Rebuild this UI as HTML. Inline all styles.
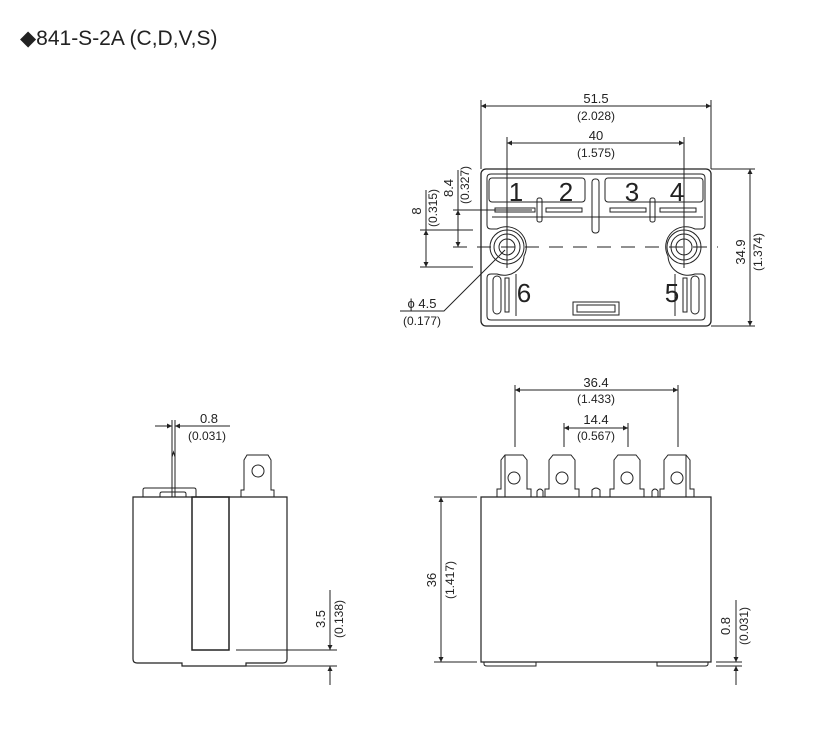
<!DOCTYPE html>
<html><head><meta charset="utf-8"><style>
html,body{margin:0;padding:0;background:#fff;}
svg{display:block}
text{font-family:"Liberation Sans",Arial,sans-serif;fill:#222}
</style></head><body>
<svg width="818" height="733" viewBox="0 0 818 733" xmlns="http://www.w3.org/2000/svg">
<defs>
<marker id="a" viewBox="0 0 10 10" refX="10" refY="5" markerWidth="9" markerHeight="5" orient="auto-start-reverse" markerUnits="userSpaceOnUse"><path d="M0,0L10,5L0,10z" fill="#222"/></marker>
</defs>
<text x="20" y="45" font-size="21">◆841-S-2A (C,D,V,S)</text>

<g stroke="#222" fill="none" stroke-width="1">
<rect x="481" y="169" width="230" height="157" rx="5" stroke-width="1.3"/>
<path d="M487,178 Q487,174 491,174 H701 Q705,174 705,178 V225 Q705,229 701,229 H695 A20,20 0 0 0 668,256 A20,20 0 0 0 695,274 H701 Q705,274 705,278 V316 Q705,320 701,320 H491 Q487,320 487,316 V278 Q487,274 491,274 H497 A20,20 0 0 0 524,256 A20,20 0 0 0 497,229 H491 Q487,229 487,225Z"/>
<rect x="489" y="178" width="96" height="24" rx="3"/>
<rect x="605" y="178" width="98" height="24" rx="3"/>
<rect x="592" y="179" width="7" height="54" rx="3"/>
<rect x="537" y="198" width="5" height="24" rx="2"/>
<rect x="650" y="198" width="5" height="24" rx="2"/>
<rect x="495" y="208" width="40" height="4"/>
<rect x="546" y="208" width="36" height="4"/>
<rect x="610" y="208" width="36" height="4"/>
<rect x="660" y="208" width="36" height="4"/>
<path d="M492,217 H703"/>
<circle cx="507" cy="247" r="8"/><circle cx="507" cy="247" r="13"/><circle cx="507" cy="247" r="17"/>
<circle cx="684" cy="247" r="8"/><circle cx="684" cy="247" r="13"/><circle cx="684" cy="247" r="17"/>
<path d="M516,274 V316 M675,274 V316"/>
<rect x="493" y="276" width="8" height="38" rx="4"/>
<rect x="505" y="278" width="4" height="34"/>
<rect x="691" y="276" width="8" height="38" rx="4"/>
<rect x="683" y="278" width="4" height="34"/>
<rect x="573" y="302" width="46" height="13"/>
<rect x="577" y="305" width="38" height="7"/>
<path d="M453,247 H718" stroke-dasharray="14,10"/>
<path d="M481,100 V169 M711,100 V169"/>
<path d="M481,106 H711" marker-start="url(#a)" marker-end="url(#a)"/>
<path d="M507,137 V268 M684,137 V268"/>
<path d="M507,143 H684" marker-start="url(#a)" marker-end="url(#a)"/>
<path d="M711,169 H755 M711,326 H755"/>
<path d="M750,169 V326" marker-start="url(#a)" marker-end="url(#a)"/>
<path d="M420,230 H473 M420,267 H473"/>
<path d="M426,230 V267" marker-start="url(#a)" marker-end="url(#a)"/>
<path d="M453,210 H532"/>
<path d="M458,210 V247" marker-start="url(#a)" marker-end="url(#a)"/>
<path d="M458,170 V210 M426,190 V230"/>
<path d="M400,311 H444 L505,250"/>

<path d="M133,497 H287 V659 Q287,663 283,663 H246 V666 H182 V663 H137 Q133,663 133,659Z" stroke-width="1.2"/>
<rect x="192" y="497" width="37" height="153" stroke-width="1.5"/>
<path d="M143,497 V490 Q143,488 145,488 H194 Q196,488 196,490 V497"/>
<path d="M160,497 V494 Q160,492 162,492 H184 Q186,492 186,494 V497"/>
<path d="M172,420 V497 M175,420 V497 M172,457 L173.5,452 L175,457"/>
<path d="M241,497 V490 L244,490 V460 L247,455 H268 L271,460 V490 L274,490 V497"/>
<circle cx="258" cy="471" r="6"/>
<path d="M155,426 H172" marker-end="url(#a)"/>
<path d="M192,426 H175" marker-end="url(#a)"/>
<path d="M175,426 H230"/>
<path d="M236,650 H337 M246,666 H337"/>
<path d="M330,590 V650" marker-end="url(#a)"/>
<path d="M330,685 V666" marker-end="url(#a)"/>

<path d="M481,497 H711 V662 H481Z" stroke-width="1.2"/>
<path d="M484,662 V664 Q484,666 487,666 H536 V662 M657,662 V666 H705 Q708,666 708,664 V662"/>
<g>
<path d="M497,497 V489 H501 V460 L505,455 H523 L527,460 V489 H531 V497"/>
<path d="M505,455 V497"/>
<circle cx="514" cy="478" r="6"/>
</g>
<g transform="translate(48,0)"><path d="M497,497 V489 H501 V460 L505,455 H523 L527,460 V489 H531 V497"/><circle cx="514" cy="478" r="6"/></g>
<g transform="translate(113,0)"><path d="M497,497 V489 H501 V460 L505,455 H523 L527,460 V489 H531 V497"/><circle cx="514" cy="478" r="6"/></g>
<g transform="translate(163,0)"><path d="M497,497 V489 H501 V460 L505,455 H523 L527,460 V489 H531 V497"/><path d="M523,455 V497"/><circle cx="514" cy="478" r="6"/></g>
<path d="M537,497 V491 Q540,487 543,491 V497 M592,497 V490 Q596,486 600,490 V497 M652,497 V491 Q655,487 658,491 V497"/>
<path d="M515,385 V447 M678,385 V447"/>
<path d="M515,390 H678" marker-start="url(#a)" marker-end="url(#a)"/>
<path d="M564,423 V447 M628,423 V447"/>
<path d="M564,428 H628" marker-start="url(#a)" marker-end="url(#a)"/>
<path d="M434,497 H477 M434,662 H477"/>
<path d="M441,497 V662" marker-start="url(#a)" marker-end="url(#a)"/>
<path d="M716,662 H742 M716,666 H742"/>
<path d="M736,600 V662" marker-end="url(#a)"/>
<path d="M736,685 V666" marker-end="url(#a)"/>
</g>

<g font-size="13" text-anchor="middle">
<text x="596" y="103">51.5</text>
<text x="596" y="120" font-size="12">(2.028)</text>
<text x="596" y="140">40</text>
<text x="596" y="157" font-size="12">(1.575)</text>
<text transform="translate(745,252) rotate(-90)">34.9</text>
<text transform="translate(762,252) rotate(-90)" font-size="12">(1.374)</text>
<text transform="translate(421,211) rotate(-90)">8</text>
<text transform="translate(437,208) rotate(-90)" font-size="12">(0.315)</text>
<text transform="translate(453,188) rotate(-90)">8.4</text>
<text transform="translate(469,185) rotate(-90)" font-size="12">(0.327)</text>
<text x="422" y="308">ϕ 4.5</text>
<text x="422" y="325" font-size="12">(0.177)</text>
<text x="209" y="423">0.8</text>
<text x="207" y="440" font-size="12">(0.031)</text>
<text transform="translate(325,619) rotate(-90)">3.5</text>
<text transform="translate(343,619) rotate(-90)" font-size="12">(0.138)</text>
<text x="596" y="387">36.4</text>
<text x="596" y="403" font-size="12">(1.433)</text>
<text x="596" y="424">14.4</text>
<text x="596" y="440" font-size="12">(0.567)</text>
<text transform="translate(436,580) rotate(-90)">36</text>
<text transform="translate(454,580) rotate(-90)" font-size="12">(1.417)</text>
<text transform="translate(730,626) rotate(-90)">0.8</text>
<text transform="translate(748,626) rotate(-90)" font-size="12">(0.031)</text>
</g>
<g font-size="26" text-anchor="middle">
<text x="516" y="201">1</text>
<text x="566" y="201">2</text>
<text x="632" y="201">3</text>
<text x="677" y="201">4</text>
<text x="524" y="302">6</text>
<text x="672" y="302">5</text>
</g>
</svg>
</body></html>
